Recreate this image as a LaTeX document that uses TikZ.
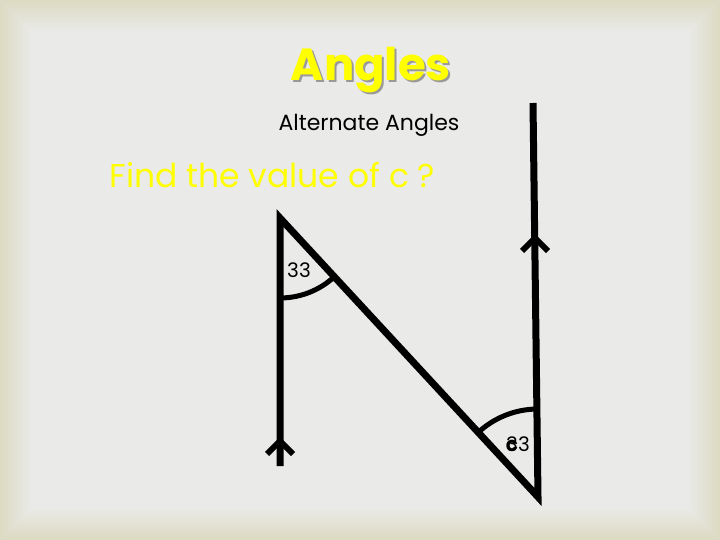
\documentclass[tikz,border=0pt]{standalone}
\usepackage{fontspec}
\setmainfont{Poppins}
\setsansfont{Poppins}
\definecolor{bgout}{HTML}{DDDBC4}
\definecolor{bgin}{HTML}{EAEAE8}
\definecolor{ylw}{HTML}{FFFF00}
\definecolor{shadowgrey}{HTML}{999999}
\tikzset{
  geoline/.style={line width=7pt, line join=miter},
  anglearc/.style={line width=5pt},
  chevron/.style={line width=6pt, line join=miter},
  anglelabel/.style={font=\fontsize{20}{22}\selectfont, inner sep=0pt}
}
\begin{document}
\begin{tikzpicture}[x=1pt,y=-1pt]
\useasboundingbox (0,0) rectangle (720,540);
% background with beige fading border
\foreach \i in {0,...,12}{
  \pgfmathtruncatemacro{\pc}{\i*100/12}
  \fill[bgin!\pc!bgout] (\i*2.6,\i*2.6) rectangle (720-\i*2.6,540-\i*2.6);
}
% titles
\node[text=shadowgrey, font=\fontsize{45}{48}\selectfont\bfseries] at (373,72) {Angles};
\node (title) [text=ylw, font=\fontsize{45}{48}\selectfont\bfseries] at (371,70) {Angles};
\node (sub) [font=\fontsize{22}{24}\selectfont] at (369,125) {Alternate Angles};
\node (question) [text=ylw, font=\fontsize{33}{36}\selectfont, anchor=west] at (106,175) {Find the value of c ?};
% geometry
\coordinate (Lb) at (280,466);
\coordinate (Lt) at (280,218);
\coordinate (Rb) at (538,497);
\coordinate (Rt) at (533,103);
\draw[geoline] (Lb) -- (Lt) -- (Rb) -- (Rt);
% parallel arrows
\coordinate (la1) at (267,454);
\coordinate (lat) at (280,441);
\coordinate (la2) at (293,454);
\draw[chevron] (la1) -- (lat) -- (la2);
\coordinate (ra1) at (522,251);
\coordinate (rat) at (535,238);
\coordinate (ra2) at (548,251);
\draw[chevron] (ra1) -- (rat) -- (ra2);
% angle arcs
\draw[anglearc] (Lt) ++(90:80) arc[start angle=90, end angle=47.2, radius=80];
\draw[anglearc] (Rb) ++(227.2:88) arc[start angle=227.2, end angle=269.3, radius=88];
% labels
\node (a1) [anglelabel] at (299,270) {33};
\node (a2) [anglelabel] at (518,444) {33};
\node (c) [anglelabel, font=\fontsize{20}{22}\selectfont\bfseries] at (512,446) {c};
\end{tikzpicture}
\end{document}
